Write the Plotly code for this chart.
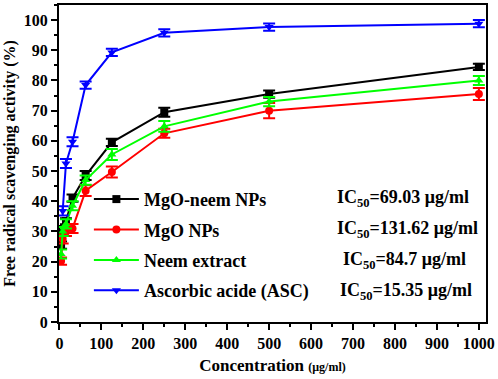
import plotly.graph_objects as go

conc = [3.9, 7.8, 15.6, 31.25, 62.5, 125, 250, 500, 1000]
conc_asc = [7.8, 15.6, 31.25, 62.5, 125, 250, 500, 1000]

mgo_neem = [25.5, 30.6, 33.4, 41.0, 48.5, 59.5, 69.5, 75.5, 84.5]
mgo_neem_err = [1.2, 1.2, 1.0, 1.2, 1.5, 1.2, 1.5, 1.2, 1.0]
mgo_np = [20.2, 27.5, 30.0, 31.0, 43.5, 49.7, 62.5, 70.0, 75.5]
mgo_np_err = [1.2, 1.5, 1.5, 1.5, 1.8, 1.8, 1.5, 2.5, 2.0]
neem = [22.5, 30.0, 32.5, 38.5, 47.0, 55.5, 64.8, 73.0, 80.0]
neem_err = [1.5, 1.5, 1.5, 1.5, 1.5, 1.8, 1.8, 1.5, 1.5]
asc = [36.8, 52.5, 59.7, 78.5, 89.3, 95.8, 97.7, 98.8]
asc_err = [1.5, 1.5, 1.5, 1.2, 1.2, 1.2, 1.2, 1.2]

names = ["MgO-neem NPs", "MgO NPs", "Neem extract", "Ascorbic acide (ASC)"]
ic50 = ["69.03", "131.62", "84.7", "15.35"]

series = [
    (conc, mgo_neem, mgo_neem_err, "#000000", "square"),
    (conc, mgo_np, mgo_np_err, "#FF0000", "circle"),
    (conc, neem, neem_err, "#00FF00", "triangle-up"),
    (conc_asc, asc, asc_err, "#0000FF", "triangle-down"),
]

fig = go.Figure()
for i, (x, y, e, c, sym) in enumerate(series):
    fig.add_trace(go.Scatter(
        x=x, y=y, name=names[i], legendgroup=f"g{i}",
        mode="lines+markers",
        line=dict(color=c, width=2),
        marker=dict(color=c, symbol=sym, size=8),
        error_y=dict(type="data", array=e, color=c, thickness=2, width=6, visible=True),
    ))

font_fam = "Liberation Serif"
ann_x = [0.647, 0.647, 0.66, 0.653]
ann_y_px = [198, 229, 260, 291]
for i in range(4):
    fig.add_annotation(
        xref="paper", yref="paper",
        x=ann_x[i], y=(322 - ann_y_px[i]) / 319,
        xanchor="left", yanchor="middle",
        text=f"IC<sub>50</sub>={ic50[i]} μg/ml",
        showarrow=False,
        font=dict(family=font_fam, size=18, color="black", weight="bold"),
    )

axis_common = dict(
    showline=True, linecolor="black", linewidth=2, mirror=True,
    ticks="outside", ticklen=6, tickwidth=1.5, tickcolor="black",
    showgrid=False, zeroline=False,
    tickfont=dict(family=font_fam, size=16, color="black", weight="bold"),
)

fig.update_xaxes(
    range=[-1, 1017], tick0=0, dtick=100,
    minor=dict(ticks="outside", ticklen=3, tickwidth=1.5, tickcolor="black", dtick=50),
    title=dict(text="Concentration <span style='font-size:12px'>(μg/ml)</span>",
               font=dict(family=font_fam, size=17, color="black", weight="bold"),
               standoff=8),
    **axis_common,
)
fig.update_yaxes(
    range=[0, 105], tick0=0, dtick=10,
    minor=dict(ticks="outside", ticklen=3, tickwidth=1.5, tickcolor="black", dtick=5),
    title=dict(text="Free radical scavenging activity (%)",
               font=dict(family=font_fam, size=16, color="black", weight="bold"),
               standoff=4),
    **axis_common,
)

fig.update_layout(
    width=498, height=379,
    margin=dict(l=59, r=9, t=3, b=57),
    plot_bgcolor="white", paper_bgcolor="white",
    showlegend=True,
    legend=dict(
        x=0.07, y=(322 - 180) / 319, xanchor="left", yanchor="top",
        bgcolor="rgba(0,0,0,0)", tracegroupgap=4, itemwidth=45,
        font=dict(family=font_fam, size=18, color="black", weight="bold"),
    ),
)

fig.write_html("out.html", config={"displayModeBar": False},
               post_script="document.body.style.margin='0';document.body.style.padding='0';")
